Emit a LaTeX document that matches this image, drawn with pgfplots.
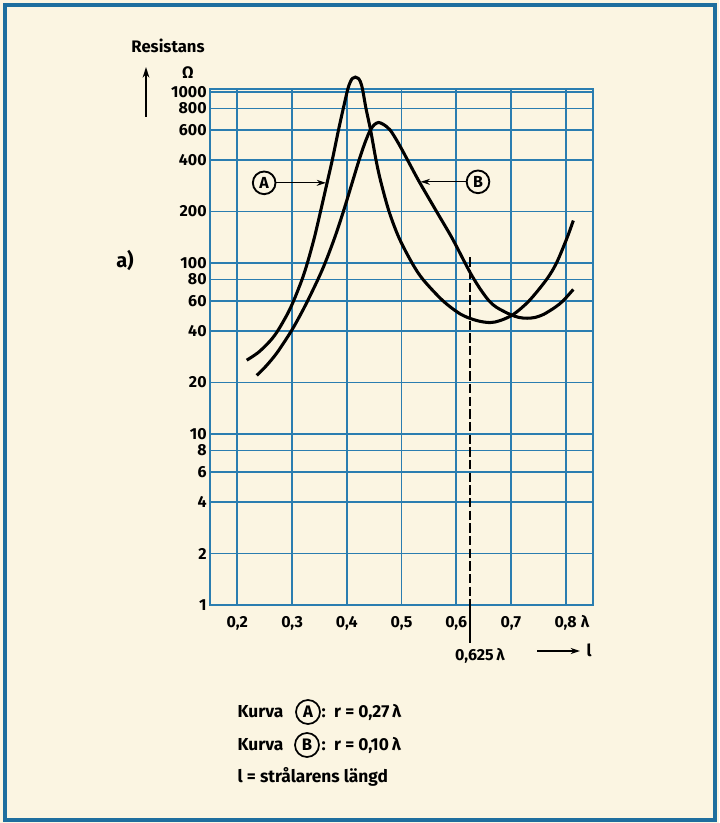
\documentclass[border=0pt]{standalone}
\usepackage{pgfplots}
\pgfplotsset{compat=1.18}
\usepackage{fontspec}
\setmainfont{Fira Sans}
\usetikzlibrary{arrows.meta}
\definecolor{bg}{HTML}{FBF5E2}
\definecolor{gridblue}{HTML}{2A7DB0}
\definecolor{frameblue}{HTML}{1E6E9E}
\newcommand\f[1]{\bfseries\fontsize{#1}{#1}\selectfont}

\begin{document}
\begin{tikzpicture}[x=0.75pt,y=0.75pt]
\fill[bg] (0,0) rectangle (719,823);
\draw[frameblue, line width=2.4pt] (5,3) rectangle (715,818);
\begin{axis}[
  at={(157.5pt,163.5pt)}, anchor=south west,
  scale only axis, width=287.25pt, height=387pt,
  xmin=0.15, xmax=0.85, ymin=1, ymax=1040,
  ymode=log,
  xtick={0.2,0.3,0.4,0.5,0.6,0.7,0.8},
  xticklabels={{0,2},{0,3},{0,4},{0,5},{0,6},{0,7},{0,8}},
  ytick={1,2,4,6,8,10,20,40,60,80,100,200,400,600,800,1000},
  yticklabels={1,2,4,6,8,10,20,40,60,80,100,200,400,600,800,1000},
  grid=major,
  major grid style={gridblue, line width=1.4pt},
  axis line style={gridblue, line width=1.7pt},
  major tick length=0pt,
  tick style={draw=none},
  /pgf/number format/assume math mode=true,
  ticklabel style={font=\f{12}},
  xticklabel style={yshift=-5pt},
  yticklabel style={xshift=1pt},
  clip=false,
]
% curve A
\addplot[black, line width=2.3pt, smooth, tension=0.5] coordinates {
 (0.2171,27) (0.2385,30) (0.2599,35) (0.2736,40) (0.2911,50) (0.3028,60)
 (0.3182,80) (0.3280,100) (0.3406,140) (0.3520,200) (0.3646,300) (0.3735,400)
 (0.3849,600) (0.3936,800) (0.4019,1040) (0.4068,1150) (0.4105,1200) (0.4156,1220)
 (0.4209,1200) (0.4247,1150) (0.4287,1040) (0.4351,800) (0.4434,600) (0.4534,400)
 (0.4620,300) (0.4772,200) (0.4955,140) (0.5192,100) (0.5393,80) (0.5759,60)
 (0.6088,50) (0.6380,46) (0.6618,44.8) (0.6801,46) (0.7044,50) (0.7331,60)
 (0.7651,80) (0.7833,100) (0.8025,140) (0.8140,177)
};
% curve B
\addplot[black, line width=2.3pt, smooth, tension=0.5] coordinates {
 (0.2354,22) (0.2527,25) (0.2730,30) (0.2986,40) (0.3156,50) (0.3284,60)
 (0.3472,80) (0.3604,100) (0.3777,140) (0.3938,200) (0.4106,300) (0.4225,400)
 (0.4328,500) (0.4420,590) (0.4500,642) (0.4578,662) (0.4660,648) (0.4790,600)
 (0.4945,500) (0.5110,400) (0.5320,300) (0.5640,200) (0.5923,140) (0.6161,100)
 (0.6289,84) (0.6444,70) (0.6600,60) (0.6737,55) (0.6983,50) (0.7148,48)
 (0.7294,47.5) (0.7440,48) (0.7596,50) (0.7806,55) (0.7952,60) (0.8140,70)
};
% 0.625 lambda marker
\addplot[black, line width=1pt, dash pattern=on 7pt off 2.5pt] coordinates {(0.625,108) (0.625,1)};
\addplot[black, line width=1pt] coordinates {(0.625,1) (0.625,0.6)};
% labels A and B
\node[circle, draw, line width=1.4pt, inner sep=0pt, minimum size=17pt, font=\f{12}] (cA) at (axis cs:0.249,294) {A};
\draw[-{Stealth[length=7pt,width=4.5pt]}, line width=0.9pt] (cA.east) -- (axis cs:0.362,294);
\node[circle, draw, line width=1.4pt, inner sep=0pt, minimum size=17pt, font=\f{12}] (cB) at (axis cs:0.6398,298) {B};
\draw[-{Stealth[length=7pt,width=4.5pt]}, line width=0.9pt] (cB.west) -- (axis cs:0.535,298);
\end{axis}
% outer texts
\node[font=\f{12.5}] at (168,777) {Resistans};
\draw[-{Stealth[length=8pt,width=5pt]}, line width=1.2pt] (146,706) -- (146,756);
\node[font=\f{12.5}] at (188,750) {Ω};
\node[font=\f{15}] at (125,562) {a)};
\node[font=\f{12}] at (585,201) {λ};
\node[font=\f{12}] at (480,167) {0,625\,λ};
\draw[-{Stealth[length=7pt,width=4.5pt]}, line width=1pt] (537,172) -- (580,172);
\node[font=\f{12.5}] at (589,173) {l};
% bottom legend text
\node[anchor=west, font=\f{13}] at (233,111) {Kurva};
\node[circle, draw, line width=1.3pt, inner sep=0pt, minimum size=18pt, font=\f{12.5}] at (308,111) {A};
\node[anchor=west, font=\f{13}] at (317,111) {:\, r = 0,27\,λ};
\node[anchor=west, font=\f{13}] at (233,78) {Kurva};
\node[circle, draw, line width=1.3pt, inner sep=0pt, minimum size=18pt, font=\f{12.5}] at (307,78) {B};
\node[anchor=west, font=\f{13}] at (317,78) {:\, r = 0,10\,λ};
\node[anchor=west, font=\f{13}] at (233,46) {l = strålarens längd};
\pgfresetboundingbox
\useasboundingbox (0,0) rectangle (719,823);
\end{tikzpicture}
\end{document}
